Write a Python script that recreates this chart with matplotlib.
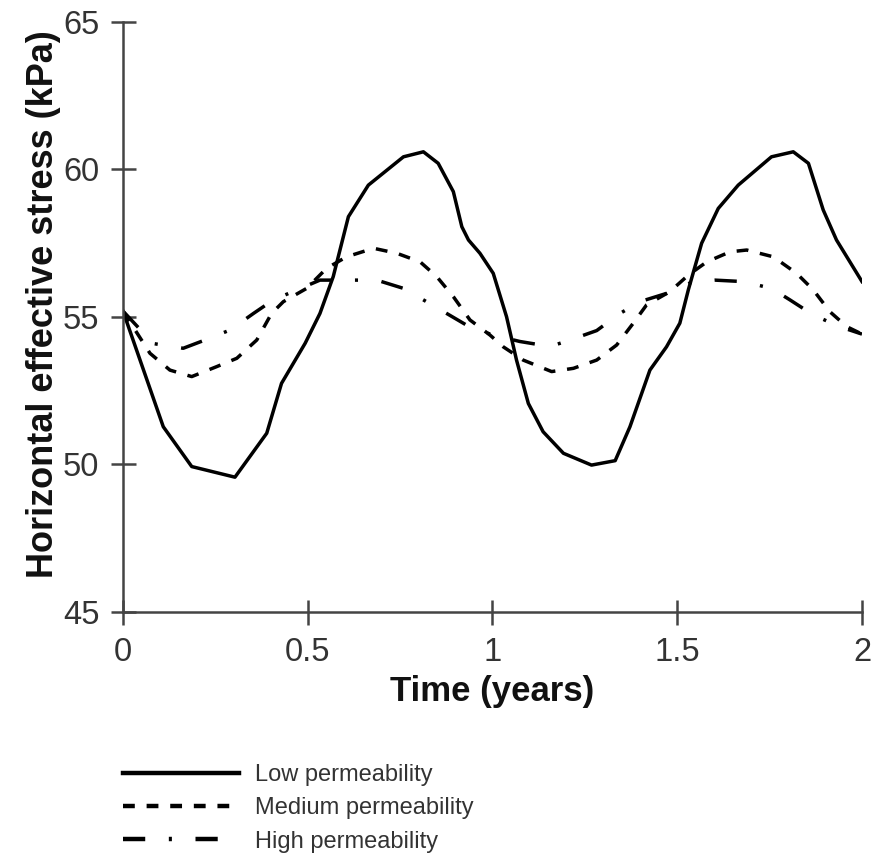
import matplotlib
matplotlib.use("Agg")
import matplotlib.pyplot as plt

plt.rcParams['font.family'] = ['Liberation Sans', 'DejaVu Sans']
plt.rcParams['lines.scale_dashes'] = False

# Low permeability
t_low = [0.0, 0.109, 0.186, 0.303, 0.389, 0.429, 0.493, 0.533, 0.569, 0.610, 0.664,
         0.759, 0.813, 0.853, 0.894, 0.917, 0.935, 0.966, 1.002, 1.038, 1.065, 1.097,
         1.137, 1.192, 1.268, 1.332, 1.372, 1.426, 1.471, 1.507, 1.530, 1.566, 1.611,
         1.665, 1.755, 1.814, 1.855, 1.895, 1.931, 2.0]
s_low = [55.2, 51.28, 49.93, 49.57, 51.06, 52.75, 54.11, 55.12, 56.37, 58.40, 59.47,
         60.43, 60.60, 60.21, 59.25, 58.06, 57.61, 57.16, 56.48, 55.01, 53.54, 52.07,
         51.11, 50.38, 49.98, 50.13, 51.28, 53.20, 53.99, 54.79, 55.92, 57.50, 58.68,
         59.47, 60.43, 60.60, 60.21, 58.63, 57.61, 56.20]

# Medium permeability
t_med = [0.0, 0.073, 0.127, 0.186, 0.254, 0.308, 0.362, 0.402, 0.434, 0.497, 0.551,
         0.605, 0.678, 0.741, 0.804, 0.849, 0.894, 0.939, 0.993, 1.029, 1.083, 1.160,
         1.219, 1.282, 1.336, 1.381, 1.417, 1.480, 1.530, 1.580, 1.643, 1.688, 1.760,
         1.823, 1.868, 1.913, 1.959, 2.0]
s_med = [55.2, 53.77, 53.20, 52.98, 53.32, 53.60, 54.22, 55.12, 55.52, 55.97, 56.65,
         57.04, 57.33, 57.16, 56.87, 56.37, 55.69, 54.90, 54.39, 53.99, 53.54, 53.15,
         53.26, 53.54, 54.05, 54.79, 55.41, 55.86, 56.42, 56.87, 57.21, 57.27, 57.04,
         56.48, 55.92, 55.18, 54.67, 54.42]

# High permeability
t_high = [0.0, 0.082, 0.163, 0.222, 0.290, 0.353, 0.407, 0.533, 0.610, 0.687, 0.759,
          0.813, 0.876, 0.944, 1.002, 1.074, 1.156, 1.210, 1.282, 1.345, 1.399, 1.471,
          1.543, 1.602, 1.679, 1.755, 1.805, 1.868, 1.940, 2.0]
s_high = [55.2, 54.10, 53.94, 54.22, 54.56, 55.12, 55.58, 56.25, 56.25, 56.25, 55.97,
          55.58, 55.12, 54.62, 54.39, 54.17, 54.00, 54.22, 54.54, 55.12, 55.52, 55.80,
          56.20, 56.25, 56.20, 55.97, 55.58, 55.07, 54.67, 54.42]

labels = ['Low permeability', 'Medium permeability', 'High permeability']
xticks = [0, 0.5, 1, 1.5, 2]
xticklabels = ['0', '0.5', '1', '1.5', '2']
yticks = [45, 50, 55, 60, 65]

fig = plt.figure(figsize=(8.79, 8.55), dpi=100)
ax = fig.add_axes([123/879, 1 - 612/855, 739/879, 590/855])

lw = 2.5
ax.plot(t_low, s_low, color='black', lw=lw, solid_joinstyle='round', label=labels[0])
ax.plot(t_med, s_med, color='black', lw=lw, dashes=(8.5, 8.5), dash_capstyle='butt', label=labels[1])
ax.plot(t_high, s_high, color='black', lw=lw, dashes=(16, 17, 2.2, 17), dash_capstyle='butt', label=labels[2])

ax.set_xlim(0, 2)
ax.set_ylim(45, 65)
ax.set_xticks(xticks)
ax.set_xticklabels(xticklabels)
ax.set_yticks(yticks)

for sp in ['top', 'right']:
    ax.spines[sp].set_visible(False)
for sp in ['left', 'bottom']:
    ax.spines[sp].set_color('#444444')
    ax.spines[sp].set_linewidth(1.8)
    ax.spines[sp].set_clip_on(False)

ax.tick_params(direction='inout', length=18, width=1.8, color='#444444',
               labelsize=23.5, labelcolor='#333333')
ax.tick_params(axis='x', pad=9)
ax.tick_params(axis='y', pad=8)

ax.set_xlabel('Time (years)', fontsize=25, fontweight='bold', color='#111111')
ax.set_ylabel('Horizontal effective stress (kPa)', fontsize=26, fontweight='bold', color='#111111')
ax.xaxis.set_label_coords(0.5, -0.107)
ax.yaxis.set_label_coords(-0.084, 0.522)

leg = ax.legend(loc='upper left', bbox_to_anchor=(123/879, 1 - 764/855),
                bbox_transform=fig.transFigure, frameon=False, fontsize=17,
                handlelength=4.9, handletextpad=0.7, labelspacing=0.48,
                borderpad=0, borderaxespad=0)
for txt in leg.get_texts():
    txt.set_color('#333333')
for line in leg.get_lines():
    line.set_linewidth(3.2)

fig.savefig('out.png', dpi=100)
